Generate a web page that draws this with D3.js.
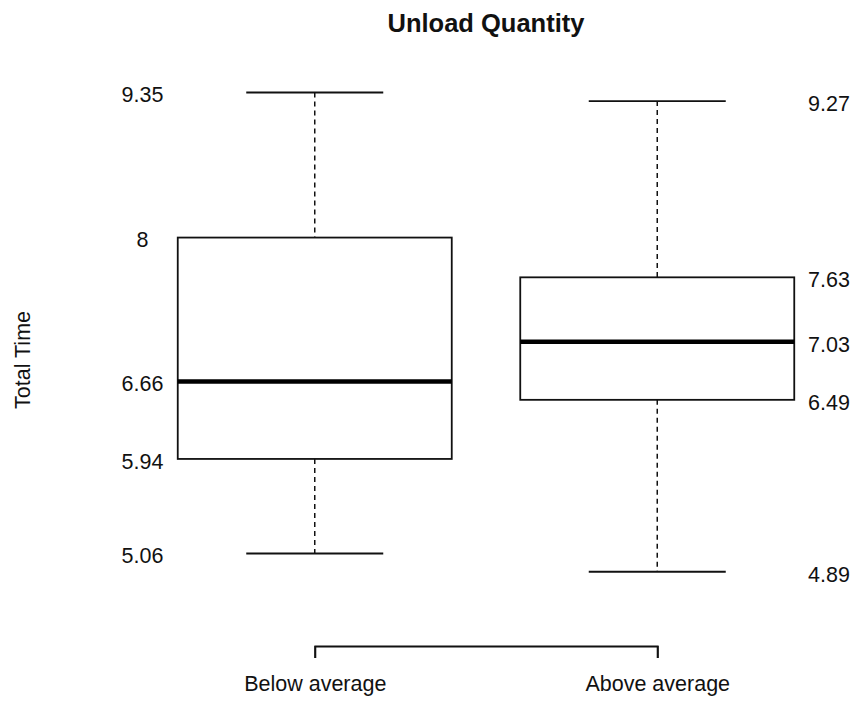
<!DOCTYPE html>
<html>
<head>
<meta charset="utf-8">
<script src="https://cdn.jsdelivr.net/npm/d3@7"></script>
<style>
  body { margin: 0; background: #fff; }
  text { font-family: "Liberation Sans", Arial, sans-serif; fill: #111; }
</style>
</head>
<body>
<svg id="chart" width="853" height="701"></svg>
<script>
// Five-number summaries of total time, per unload quantity group
const categories = ["Below average", "Above average"];
const minimums = [5.06, 4.89];
const lowerQuartiles = [5.94, 6.49];
const medians = [6.66, 7.03];
const upperQuartiles = [8, 7.63];
const maximums = [9.35, 9.27];

const chartTitle = "Unload Quantity";
const yTitle = "Total Time";

const svg = d3.select("#chart");
const ink = "#111";

const x = d3.scalePoint().domain(categories).range([143.5, 828.5]).padding(0.5);
const y = d3.scaleLinear().domain([5.06, 9.35]).range([553.5, 92.5]);

const boxWidth = x.step() * 0.8;
const capWidth = x.step() * 0.4;

const groups = categories.map((c, i) => ({
  cat: c, i,
  min: minimums[i], q1: lowerQuartiles[i], med: medians[i],
  q3: upperQuartiles[i], max: maximums[i]
}));

// Title
svg.append("text")
  .attr("x", 486).attr("y", 32)
  .attr("text-anchor", "middle")
  .style("font-size", "25.5px").style("font-weight", "bold")
  .text(chartTitle);

// Y-axis title
svg.append("text")
  .attr("transform", "translate(30,360) rotate(-90)")
  .attr("text-anchor", "middle")
  .style("font-size", "21.5px")
  .text(yTitle);

const g = svg.selectAll("g.box").data(groups).join("g").attr("class", "box");

// Whiskers (dashed)
g.append("line")
  .attr("x1", d => x(d.cat)).attr("x2", d => x(d.cat))
  .attr("y1", d => y(d.max)).attr("y2", d => y(d.q3))
  .attr("stroke", ink).attr("stroke-width", 1.5).attr("stroke-dasharray", "5,4");
g.append("line")
  .attr("x1", d => x(d.cat)).attr("x2", d => x(d.cat))
  .attr("y1", d => y(d.q1)).attr("y2", d => y(d.min))
  .attr("stroke", ink).attr("stroke-width", 1.5).attr("stroke-dasharray", "5,4");

// Whisker caps
["min", "max"].forEach(k => {
  g.append("line")
    .attr("x1", d => x(d.cat) - capWidth / 2).attr("x2", d => x(d.cat) + capWidth / 2)
    .attr("y1", d => y(d[k])).attr("y2", d => y(d[k]))
    .attr("stroke", ink).attr("stroke-width", 1.8);
});

// Boxes
g.append("rect")
  .attr("x", d => x(d.cat) - boxWidth / 2)
  .attr("width", boxWidth)
  .attr("y", d => y(d.q3))
  .attr("height", d => y(d.q1) - y(d.q3))
  .attr("fill", "#fff").attr("stroke", ink).attr("stroke-width", 1.8);

// Medians
g.append("line")
  .attr("x1", d => x(d.cat) - boxWidth / 2).attr("x2", d => x(d.cat) + boxWidth / 2)
  .attr("y1", d => y(d.med)).attr("y2", d => y(d.med))
  .attr("stroke", "#000").attr("stroke-width", 4.5);

// Value labels: first group on the left margin, second on the right margin
const labelX = [x.range()[0] - 1, x.range()[1] + 0.5];
groups.forEach(d => {
  [d.max, d.q3, d.med, d.q1, d.min].forEach(v => {
    svg.append("text")
      .attr("x", labelX[d.i])
      .attr("y", y(v) + 2)
      .attr("dy", "0.36em")
      .attr("text-anchor", "middle")
      .style("font-size", "21.5px")
      .text(String(v));
  });
});

// Category axis bracket
const axisScale = x.copy().padding(0).range([x(categories[0]), x(categories[categories.length - 1])]);
const axis = svg.append("g")
  .attr("transform", "translate(0,646)")
  .call(d3.axisBottom(axisScale).tickSize(12).tickSizeOuter(12).tickPadding(18));
axis.select(".domain").attr("stroke", ink).attr("stroke-width", 1.8);
axis.selectAll(".tick line").attr("stroke", ink).attr("stroke-width", 1.8);
axis.selectAll(".tick text")
  .style("font-size", "21.5px")
  .style("font-family", "'Liberation Sans', Arial, sans-serif")
  .attr("fill", "#111");
</script>
</body>
</html>
